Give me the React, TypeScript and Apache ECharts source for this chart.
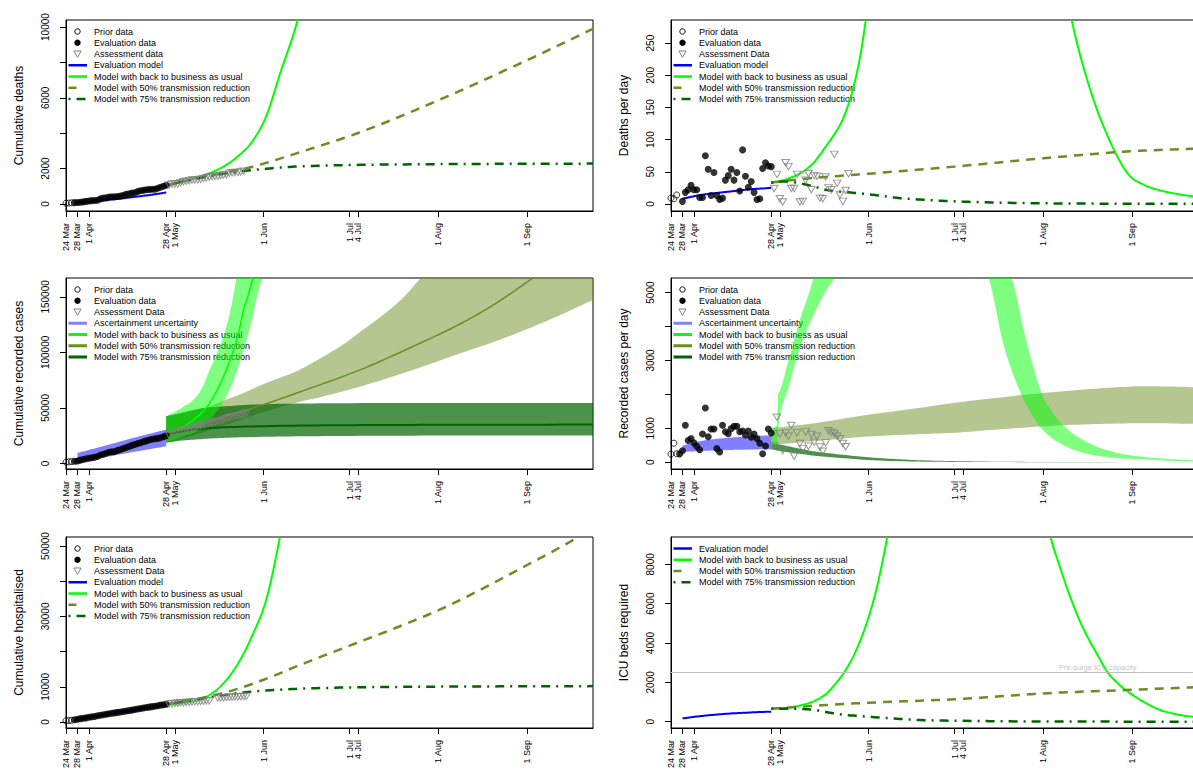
import React, { useEffect, useRef } from 'react';
import * as echarts from 'echarts';

const FONT = '"Liberation Sans", Arial, Helvetica, sans-serif';

// ---------- shared axis info ----------
const TICK_DAYS = [0, 4, 8, 35, 38, 69, 99, 102, 130, 161];
const TICK_LABELS = ['24 Mar', '28 Mar', '1 Apr', '28 Apr', '1 May', '1 Jun', '1 Jul', '4 Jul', '1 Aug', '1 Sep'];
const X_MAX = 184;

// ---------- colours ----------
const C_BLUE = '#0000FF';
const C_GREEN = '#00FF00';
const C_OLIVE = '#6B8E23';
const C_DKGREEN = '#006400';
const C_TRI = '#808080';
const B_BLUE = 'rgba(0,0,255,0.5)';
const B_GREEN = 'rgba(0,255,0,0.5)';
const B_OLIVE = 'rgba(107,142,35,0.5)';
const B_DK = 'rgba(0,100,0,0.7)';
const DASH50 = [9, 7];
const DASH75 = [2, 6, 9, 6];

// ---------- day positions ----------
const PRIOR_DAYS = [0, 1, 2];
const EVAL_DAYS_3 = [3, 4, 5, 6, 7, 8, 9, 10, 11, 12, 13, 14, 15, 16, 17, 18, 19, 20, 21, 22, 23, 24, 25, 26, 27, 28, 29, 30, 31, 32, 33, 34, 35];
const EVAL_DAYS_4 = [4, 5, 6, 7, 8, 9, 10, 11, 12, 13, 14, 15, 16, 17, 18, 19, 20, 21, 22, 23, 24, 25, 26, 27, 28, 29, 30, 31, 32, 33, 34, 35];
const ASSESS_DAYS_62 = [36, 37, 38, 39, 40, 41, 42, 43, 44, 45, 46, 47, 48, 49, 50, 51, 52, 53, 54, 55, 56, 57, 58, 59, 60, 61, 62];
const ASSESS_DAYS_61 = [36, 37, 38, 39, 40, 41, 42, 43, 44, 45, 46, 47, 48, 49, 50, 51, 52, 53, 54, 55, 56, 57, 58, 59, 60, 61];
const ASSESS_DAYS_63 = [36, 37, 38, 39, 40, 41, 42, 43, 44, 45, 46, 47, 48, 49, 50, 51, 52, 53, 54, 55, 56, 57, 58, 59, 60, 61, 62, 63];
const HOSP_ASSESS_DAYS = [36, 37, 38, 39, 40, 41, 42, 43, 44, 45, 46, 47, 48, 49, 50, 53, 54, 55, 56, 57, 58, 59, 60, 61, 62, 63];

// ---------- Panel A: cumulative deaths ----------
const DEATHS_CUM_PRIOR = [40, 49, 63];
const DEATHS_CUM_EVAL = [72, 76, 94, 116, 144, 166, 188, 198, 209, 284, 330, 343, 390, 402, 408, 418, 452, 492, 540, 572, 612, 630, 705, 745, 768, 800, 817, 825, 833, 885, 945, 1000, 1055];
const DEATHS_CUM_ASSESS = [1079, 1125, 1133, 1136, 1200, 1258, 1282, 1306, 1352, 1355, 1359, 1396, 1443, 1465, 1509, 1552, 1561, 1569, 1611, 1636, 1658, 1735, 1767, 1781, 1785, 1806, 1853];
const DEATHS_CUM_MODEL = [[4, 60], [8, 110], [12, 180], [16, 250], [20, 320], [24, 400], [28, 480], [32, 570], [35, 650]];
const DEATHS_CUM_BAU = [[35, 1055], [40, 1230], [45, 1450], [50, 1725], [55, 2110], [60, 2690], [65, 3520], [70, 5000], [75, 7500], [80, 9900], [85, 13000]];
const DEATHS_CUM_P50 = [[35, 1055], [45, 1420], [55, 1760], [62, 1980], [69, 2280], [82, 2940], [102, 4010], [130, 5860], [161, 8130], [184, 9900]];
const DEATHS_CUM_P75 = [[35, 1055], [45, 1410], [55, 1700], [62, 1860], [70, 1990], [80, 2110], [100, 2200], [130, 2250], [160, 2270], [184, 2280]];

// ---------- Panel B: deaths per day ----------
const DEATHS_DAILY_PRIOR = [9, 8, 14];
const DEATHS_DAILY_EVAL = [4, 18, 22, 29, 22, 22, 10, 10, 75, 54, 13, 49, 13, 7, 9, 37, 44, 54, 37, 49, 20, 84, 43, 26, 35, 18, 7, 8, 55, 64, 59, 58];
const DEATHS_DAILY_ASSESS = [24, 46, 8, 3, 64, 58, 24, 24, 46, 3, 4, 37, 47, 22, 44, 43, 9, 8, 42, 25, 22, 77, 32, 14, 4, 21, 47];
const DEATHS_DAILY_MODEL = [[4, 8], [8, 12], [12, 15], [16, 17], [20, 19], [24, 21], [28, 23], [32, 24], [35, 25]];
const DEATHS_DAILY_BAU = [[35, 33], [40, 38], [46, 50], [50, 65], [54, 89], [57, 108], [60, 132], [63, 170], [66, 228], [68, 285], [70, 345], [73, 460], [100, 3000], [135, 410], [139.9, 286], [146.5, 176], [153.1, 99], [159.7, 46], [165, 30], [170, 22], [176, 16], [181.8, 12], [184, 11]];
const DEATHS_DAILY_P50 = [[35, 33], [40, 36], [54, 42], [69, 47], [99, 58], [130, 71], [161, 82], [184, 86]];
const DEATHS_DAILY_P75 = [[35, 33], [40, 35], [45, 32], [50, 27], [54, 22], [62, 18], [69, 15], [80, 9], [90, 6], [99, 4], [115, 2], [130, 1], [160, 0.3], [184, 0.1]];

// ---------- Panel C: cumulative recorded cases ----------
const CASES_CUM_PRIOR = [1200, 1450, 1700];
const CASES_CUM_EVAL = [1900, 2200, 3000, 3600, 4200, 4700, 5100, 5500, 6200, 7600, 8300, 9200, 10100, 10500, 10800, 11800, 12600, 13400, 14300, 15300, 16300, 17100, 18000, 18700, 19600, 20300, 21100, 21800, 22300, 22600, 23100, 24100, 25000];
const CASES_CUM_ASSESS = [25600, 26900, 27700, 28100, 29000, 29800, 30900, 31100, 32000, 32600, 33000, 34000, 34500, 35400, 36000, 36800, 37300, 37700, 38300, 39300, 40200, 41100, 41900, 42600, 43200, 43700, 44600, 45400];
const CASES_CUM_ASC_HI = [[4, 9500], [10, 13500], [15, 17000], [20, 20500], [25, 24000], [30, 27300], [35, 30500]];
const CASES_CUM_ASC_LO = [[4, 1500], [10, 4000], [15, 6300], [20, 8700], [25, 11000], [30, 13300], [35, 15500]];
const CASES_CUM_BAU_HI = [[35, 42500], [38, 46500], [41, 51000], [44.6, 57500], [47.5, 68000], [50.2, 84500], [53, 101000], [56, 123000], [58, 145000], [59.5, 167000], [62, 200000], [66, 280000]];
const CASES_CUM_BAU_LO = [[35, 18600], [38, 21500], [41, 24500], [44.6, 27600], [47.5, 32500], [50.2, 39500], [53, 48000], [56, 60500], [59, 78000], [62, 102400], [64.5, 125000], [66.7, 150000], [68.5, 167000], [71, 200000]];
const CASES_CUM_BAU_MID = [[35, 27000], [40, 32000], [44.6, 39500], [50.2, 54500], [56, 84500], [60, 115000], [62, 138000], [64, 155000], [66, 175000], [68, 200000]];
const CASES_CUM_P50_HI = [[35, 42500], [40, 44500], [45, 47500], [50, 51500], [56, 57500], [62, 63500], [68, 70500], [74, 76500], [79.6, 82000], [86, 90500], [92, 99500], [97, 107500], [102.9, 118900], [108, 128500], [113, 138500], [118, 150000], [123.9, 167000], [130, 182000], [140, 210000], [160, 270000], [184, 350000]];
const CASES_CUM_P50_LO = [[35, 18600], [45, 26000], [56, 35000], [68, 45500], [80, 54500], [90, 60500], [102.9, 69400], [115, 79000], [127, 89500], [137.9, 99400], [150, 110000], [160, 120000], [172, 133000], [184, 147300]];
const CASES_CUM_P50_MID = [[35, 27000], [45, 33500], [56, 42500], [69, 53000], [85, 67500], [102.9, 84500], [120, 104000], [137.9, 126000], [150, 144000], [163, 167000], [175, 188000]];
const CASES_CUM_P75_HI = [[35, 42500], [40, 45500], [45, 48500], [50, 50500], [56, 51500], [65, 53000], [80, 53900], [100, 54300], [130, 54500], [184, 54500]];
const CASES_CUM_P75_LO = [[35, 18600], [40, 20500], [45, 21500], [50, 22400], [56, 23100], [65, 23800], [80, 24400], [100, 24800], [130, 25100], [184, 25200]];
const CASES_CUM_P75_MID = [[35, 26000], [40, 28500], [44.6, 30500], [55, 32500], [68, 33500], [85, 34200], [100, 34500], [130, 34800], [184, 35000]];

// ---------- Panel D: recorded cases per day ----------
const CASES_DAILY_PRIOR = [240, 560, 250];
const CASES_DAILY_EVAL = [245, 340, 1090, 640, 700, 570, 470, 370, 830, 1600, 750, 980, 980, 400, 300, 1090, 900, 840, 990, 1060, 1060, 900, 920, 800, 920, 740, 830, 700, 560, 250, 480, 980, 860];
const CASES_DAILY_ASSESS = [490, 1325, 835, 345, 865, 765, 1080, 175, 865, 550, 400, 895, 470, 815, 590, 765, 450, 325, 570, 930, 880, 845, 765, 690, 550, 455];
const CASES_DAILY_ASC_HI = [[4, 490], [10, 620], [15, 680], [20, 720], [25, 750], [30, 775], [35, 795]];
const CASES_DAILY_ASC_LO = [[4, 300], [10, 330], [15, 345], [20, 360], [25, 370], [30, 378], [35, 385]];
const CASES_DAILY_BAU_HI_RISE = [[35, 1000], [36, 1020], [37, 1100]];
const CASES_DAILY_BAU_HI = [[37.4, 2000], [38.2, 2140], [41.1, 3020], [45, 4200], [49.7, 5430], [52, 6400], [80, 40000], [112, 6500], [118.8, 5430], [124, 3600], [129.4, 2040], [133, 1500], [137.3, 1060], [146, 560], [155.7, 280], [166, 150], [175, 90], [184, 55]];
const CASES_DAILY_BAU_LO_RISE = [[35, 500], [36, 510], [37, 520]];
const CASES_DAILY_BAU_LO = [[37.4, 1000], [38.5, 1550], [41, 2200], [43.7, 3020], [46, 3600], [49, 4200], [54.3, 5080], [57, 5430], [60, 6200], [80, 30000], [105, 6500], [110.9, 5430], [116, 3500], [122.1, 2040], [128.7, 1060], [135, 600], [143.9, 280], [155, 130], [166, 80], [175, 40], [184, 25]];
const CASES_DAILY_P50_HI = [[35, 1000], [37, 1020], [50, 1150], [69, 1400], [85, 1580], [99, 1750], [115, 1910], [130, 2040], [150, 2180], [166, 2240], [184, 2210]];
const CASES_DAILY_P50_LO = [[35, 500], [37, 520], [50, 620], [69, 760], [85, 820], [99, 870], [115, 970], [130, 1060], [150, 1130], [166, 1150], [184, 1130]];
const CASES_DAILY_P75_HI = [[35, 560], [38, 520], [45, 400], [50, 320], [60, 220], [70, 140], [80, 85], [90, 50], [110, 20], [140, 5], [184, 1]];
const CASES_DAILY_P75_LO = [[35, 380], [38, 330], [45, 250], [50, 190], [60, 120], [70, 60], [80, 30], [90, 15], [110, 5], [140, 1], [184, 0]];

// ---------- Panel E: cumulative hospitalised ----------
const HOSP_PRIOR = [350, 420, 500];
const HOSP_EVAL = [650, 780, 960, 1050, 1180, 1330, 1470, 1580, 1760, 1900, 2080, 2200, 2330, 2480, 2600, 2740, 2870, 2980, 3120, 3250, 3380, 3560, 3690, 3840, 3960, 4100, 4230, 4370, 4500, 4630, 4790, 4910, 5050];
const HOSP_ASSESS = [5100, 5200, 5300, 5350, 5450, 5500, 5560, 5640, 5700, 5750, 5800, 5860, 5900, 5950, 6000, 6800, 6850, 6900, 6950, 7000, 7050, 7100, 7150, 7200, 7250, 7300];
const HOSP_MODEL = [[4, 750], [10, 1550], [15, 2250], [20, 2900], [25, 3550], [30, 4200], [35, 4850]];
const HOSP_BAU = [[35, 5050], [40, 5350], [45, 6000], [50, 7600], [55, 11000], [60, 16500], [65, 24500], [70, 35000], [74.7, 52600], [78, 68000]];
const HOSP_P50 = [[35, 5050], [45, 6400], [57, 8700], [69, 12000], [82, 16300], [97.5, 21200], [115, 26700], [130.7, 32000], [145, 37700], [161, 44600], [170, 48500], [178.4, 52300], [184, 55000]];
const HOSP_P75 = [[35, 5050], [45, 6300], [50, 7000], [60, 8200], [69, 8900], [80, 9400], [97.5, 9800], [130, 10050], [184, 10200]];

// ---------- Panel F: ICU beds ----------
const ICU_MODEL = [[4, 170], [10, 280], [15, 350], [20, 410], [25, 450], [30, 485], [35, 510]];
const ICU_BAU = [[35, 660], [40, 700], [45, 820], [50, 1050], [54, 1400], [57, 1850], [60.4, 2490], [64, 3420], [67.7, 4750], [70.5, 6050], [72.7, 7350], [75.5, 9390], [78, 11500], [105, 35000], [128, 13000], [132.6, 9370], [135.5, 8000], [139, 6500], [142.5, 5200], [146, 4150], [149.5, 3250], [152, 2600], [156.4, 1900], [158.8, 1610], [163.4, 1150], [170.4, 620], [177.4, 350], [181.9, 255], [184, 225]];
const ICU_P50 = [[35, 660], [54.3, 850], [69, 965], [99, 1140], [121.6, 1357], [130, 1440], [158.8, 1610], [184, 1760]];
const ICU_P75 = [[35, 660], [45, 650], [50, 600], [55, 470], [60, 360], [69, 255], [80, 140], [87, 85], [99, 50], [130, 10], [184, 2]];
const ICU_CAPACITY = 2500;
const ICU_CAPACITY_LABEL_DAY = 149;

// ---------- layout ----------
const GRID_LEFT = [66, 671];
const GRID_TOP = [20, 278, 537];
const GRID_W = 527;
const GRID_H = 191;

const Y_SPECS = [
  { name: 'Cumulative deaths', min: -400, max: 10400, ticks: [0, 2000, 4000, 6000, 8000, 10000], labels: [0, 2000, 6000, 10000] },
  { name: 'Deaths per day', min: -11, max: 286, ticks: [0, 50, 100, 150, 200, 250], labels: [0, 50, 100, 150, 200, 250] },
  { name: 'Cumulative recorded cases', min: -5000, max: 167000, ticks: [0, 50000, 100000, 150000], labels: [0, 50000, 100000, 150000] },
  { name: 'Recorded cases per day', min: -200, max: 5430, ticks: [0, 1000, 2000, 3000, 4000, 5000], labels: [0, 1000, 3000, 5000] },
  { name: 'Cumulative hospitalised', min: -1700, max: 52560, ticks: [0, 10000, 20000, 30000, 40000, 50000], labels: [0, 10000, 30000, 50000] },
  { name: 'ICU beds required', min: -320, max: 9390, ticks: [0, 2000, 4000, 6000, 8000], labels: [0, 2000, 4000, 6000, 8000] },
];

const zip = (xs: number[], ys: number[]) => xs.map((x, i) => [x, ys[i]]);

// Monotone cubic (Fritsch-Carlson) drawing of a curve through pixel points whose x increases.
function monotoneCurve(p: number[][], steps = 10): number[][] {
  const n = p.length;
  if (n < 3) return p.slice();
  const m: number[] = [];
  for (let i = 0; i < n - 1; i++) m.push((p[i + 1][1] - p[i][1]) / (p[i + 1][0] - p[i][0]));
  const t: number[] = new Array(n);
  t[0] = m[0];
  t[n - 1] = m[n - 2];
  for (let i = 1; i < n - 1; i++) t[i] = m[i - 1] * m[i] <= 0 ? 0 : (m[i - 1] + m[i]) / 2;
  for (let i = 0; i < n - 1; i++) {
    if (m[i] === 0) { t[i] = 0; t[i + 1] = 0; continue; }
    const a = t[i] / m[i];
    const b = t[i + 1] / m[i];
    const s = a * a + b * b;
    if (s > 9) {
      const tau = 3 / Math.sqrt(s);
      t[i] = tau * a * m[i];
      t[i + 1] = tau * b * m[i];
    }
  }
  const out: number[][] = [p[0]];
  for (let i = 0; i < n - 1; i++) {
    const h = p[i + 1][0] - p[i][0];
    for (let k = 1; k <= steps; k++) {
      const u = k / steps;
      const h00 = 2 * u * u * u - 3 * u * u + 1;
      const h10 = u * u * u - 2 * u * u + u;
      const h01 = -2 * u * u * u + 3 * u * u;
      const h11 = u * u * u - u * u;
      out.push([p[i][0] + u * h, h00 * p[i][1] + h10 * h * t[i] + h01 * p[i + 1][1] + h11 * h * t[i + 1]]);
    }
  }
  return out;
}

function scatter(gi: number, name: string, xs: number[], ys: number[], kind: string): any {
  const base: any = {
    type: 'scatter', name, xAxisIndex: gi, yAxisIndex: gi, data: zip(xs, ys), silent: true, clip: true,
  };
  if (kind === 'open') {
    return { ...base, symbol: 'circle', symbolSize: 6, itemStyle: { color: 'rgba(0,0,0,0)', borderColor: '#000', borderWidth: 1 } };
  }
  if (kind === 'dot') {
    return { ...base, symbol: 'circle', symbolSize: 7, itemStyle: { color: '#000' } };
  }
  return { ...base, symbol: 'triangle', symbolRotate: 180, symbolSize: [7.5, 6.5], itemStyle: { color: 'rgba(0,0,0,0)', borderColor: C_TRI, borderWidth: 1 } };
}

// Model line drawn through the read points with a monotone cubic, using the axes' own scale (api.coord).
function line(gi: number, name: string, pts: number[][], color: string, width: number, dash?: number[]): any {
  return {
    type: 'custom', name, xAxisIndex: gi, yAxisIndex: gi, clip: true, silent: true,
    data: [pts[0]],
    renderItem: (_params: any, api: any) => {
      const px = monotoneCurve(pts.map((p) => api.coord(p)));
      return {
        type: 'polyline',
        shape: { points: px },
        style: { stroke: color, lineWidth: width, fill: 'none', lineDash: dash || null, lineCap: 'butt', lineJoin: 'round' },
      };
    },
  };
}

function band(gi: number, name: string, hiParts: number[][][], loParts: number[][][], color: string): any {
  return {
    type: 'custom', name, xAxisIndex: gi, yAxisIndex: gi, clip: true, silent: true,
    data: [hiParts[0][0]],
    renderItem: (_params: any, api: any) => {
      const hi: number[][] = [];
      hiParts.forEach((part) => hi.push(...monotoneCurve(part.map((p) => api.coord(p)))));
      const lo: number[][] = [];
      loParts.forEach((part) => lo.push(...monotoneCurve(part.map((p) => api.coord(p)))));
      return { type: 'polygon', shape: { points: hi.concat(lo.reverse()) }, style: { fill: color, stroke: 'none' } };
    },
  };
}

type LegendEntry = { kind: string; label: string; color?: string; width?: number; dash?: number[] };

function legend(panel: number, entries: LegendEntry[]): any[] {
  const L = GRID_LEFT[panel % 2];
  const T = GRID_TOP[Math.floor(panel / 2)];
  const out: any[] = [];
  entries.forEach((e, i) => {
    const y = T + 11.5 + i * 11.25;
    const mx = L + 11.5;
    if (e.kind === 'open') {
      out.push({ type: 'circle', shape: { cx: mx, cy: y, r: 2.7 }, style: { fill: 'none', stroke: '#000', lineWidth: 1 } });
    } else if (e.kind === 'dot') {
      out.push({ type: 'circle', shape: { cx: mx, cy: y, r: 3.2 }, style: { fill: '#000' } });
    } else if (e.kind === 'tri') {
      out.push({ type: 'polygon', shape: { points: [[mx - 3.6, y - 3], [mx + 3.6, y - 3], [mx, y + 3.3]] }, style: { fill: 'none', stroke: C_TRI, lineWidth: 1 } });
    } else {
      out.push({ type: 'line', shape: { x1: L + 2.5, y1: y, x2: L + 21, y2: y }, style: { stroke: e.color, lineWidth: e.width || 2.5, lineDash: e.dash || null, lineCap: 'butt' } });
    }
    out.push({ type: 'text', x: L + 28, y, style: { text: e.label, fontSize: 9, fontFamily: FONT, fill: '#000', verticalAlign: 'middle', align: 'left' } });
  });
  return out;
}

const LBL_BAU = 'Model with back to business as usual';
const LBL_50 = 'Model with 50% transmission reduction';
const LBL_75 = 'Model with 75% transmission reduction';

function buildOption(): any {
  const grids: any[] = [];
  const xAxes: any[] = [];
  const yAxes: any[] = [];
  for (let i = 0; i < 6; i++) {
    grids.push({
      left: GRID_LEFT[i % 2], top: GRID_TOP[Math.floor(i / 2)], width: GRID_W, height: GRID_H,
      show: true, borderColor: '#000', borderWidth: 1, backgroundColor: 'transparent',
      containLabel: false, outerBoundsMode: 'none',
    });
    xAxes.push({
      type: 'value', gridIndex: i, min: 0, max: X_MAX,
      axisLine: { show: true, onZero: false, lineStyle: { color: '#000', width: 1 } },
      axisTick: { show: true, customValues: TICK_DAYS, length: 6, lineStyle: { color: '#000', width: 1 } },
      axisLabel: {
        show: true, customValues: TICK_DAYS, rotate: 90, fontSize: 9, fontFamily: FONT, color: '#000', margin: 12,
        hideOverlap: false, formatter: (v: number) => TICK_LABELS[TICK_DAYS.indexOf(v)] ?? '',
      },
      splitLine: { show: false },
    });
    const s = Y_SPECS[i];
    yAxes.push({
      type: 'value', gridIndex: i, min: s.min, max: s.max,
      axisLine: { show: true, onZero: false, lineStyle: { color: '#000', width: 1 } },
      axisTick: { show: true, customValues: s.ticks, length: 6, lineStyle: { color: '#000', width: 1 } },
      axisLabel: {
        show: true, customValues: s.labels, rotate: 90, fontSize: 10, fontFamily: FONT, color: '#000', margin: 16,
        hideOverlap: false, formatter: (v: number) => String(v),
      },
      splitLine: { show: false },
      name: s.name, nameLocation: 'middle', nameGap: 41,
      nameTextStyle: { fontSize: 12, fontFamily: FONT, color: '#000' },
    });
  }

  const series: any[] = [
    // A: cumulative deaths
    line(0, 'BAU', DEATHS_CUM_BAU, C_GREEN, 2),
    line(0, '50%', DEATHS_CUM_P50, C_OLIVE, 2.5, DASH50),
    line(0, '75%', DEATHS_CUM_P75, C_DKGREEN, 2.5, DASH75),
    scatter(0, 'Prior data', PRIOR_DAYS, DEATHS_CUM_PRIOR, 'open'),
    scatter(0, 'Evaluation data', EVAL_DAYS_3, DEATHS_CUM_EVAL, 'dot'),
    scatter(0, 'Assessment data', ASSESS_DAYS_62, DEATHS_CUM_ASSESS, 'tri'),
    line(0, 'Evaluation model', DEATHS_CUM_MODEL, C_BLUE, 2),

    // B: deaths per day
    line(1, 'BAU', DEATHS_DAILY_BAU, C_GREEN, 2),
    line(1, '50%', DEATHS_DAILY_P50, C_OLIVE, 2.5, DASH50),
    line(1, '75%', DEATHS_DAILY_P75, C_DKGREEN, 2.5, DASH75),
    scatter(1, 'Prior data', PRIOR_DAYS, DEATHS_DAILY_PRIOR, 'open'),
    scatter(1, 'Evaluation data', EVAL_DAYS_4, DEATHS_DAILY_EVAL, 'dot'),
    scatter(1, 'Assessment Data', ASSESS_DAYS_62, DEATHS_DAILY_ASSESS, 'tri'),
    line(1, 'Evaluation model', DEATHS_DAILY_MODEL, C_BLUE, 2),

    // C: cumulative recorded cases
    band(2, 'Ascertainment uncertainty', [CASES_CUM_ASC_HI], [CASES_CUM_ASC_LO], B_BLUE),
    band(2, '50% band', [CASES_CUM_P50_HI], [CASES_CUM_P50_LO], B_OLIVE),
    band(2, '75% band', [CASES_CUM_P75_HI], [CASES_CUM_P75_LO], B_DK),
    band(2, 'BAU band', [CASES_CUM_BAU_HI], [CASES_CUM_BAU_LO], B_GREEN),
    line(2, 'BAU', CASES_CUM_BAU_MID, C_GREEN, 1.5),
    line(2, '50%', CASES_CUM_P50_MID, C_OLIVE, 1.5),
    line(2, '75%', CASES_CUM_P75_MID, C_DKGREEN, 2),
    scatter(2, 'Prior data', PRIOR_DAYS, CASES_CUM_PRIOR, 'open'),
    scatter(2, 'Evaluation data', EVAL_DAYS_3, CASES_CUM_EVAL, 'dot'),
    scatter(2, 'Assessment Data', ASSESS_DAYS_63, CASES_CUM_ASSESS, 'tri'),

    // D: recorded cases per day
    band(3, 'Ascertainment uncertainty', [CASES_DAILY_ASC_HI], [CASES_DAILY_ASC_LO], B_BLUE),
    band(3, '50% band', [CASES_DAILY_P50_HI], [CASES_DAILY_P50_LO], B_OLIVE),
    band(3, '75% band', [CASES_DAILY_P75_HI], [CASES_DAILY_P75_LO], B_DK),
    band(3, 'BAU band', [CASES_DAILY_BAU_HI_RISE, CASES_DAILY_BAU_HI], [CASES_DAILY_BAU_LO_RISE, CASES_DAILY_BAU_LO], B_GREEN),
    scatter(3, 'Prior data', PRIOR_DAYS, CASES_DAILY_PRIOR, 'open'),
    scatter(3, 'Evaluation data', EVAL_DAYS_3, CASES_DAILY_EVAL, 'dot'),
    scatter(3, 'Assessment Data', ASSESS_DAYS_61, CASES_DAILY_ASSESS, 'tri'),

    // E: cumulative hospitalised
    line(4, 'BAU', HOSP_BAU, C_GREEN, 2),
    line(4, '50%', HOSP_P50, C_OLIVE, 2.5, DASH50),
    line(4, '75%', HOSP_P75, C_DKGREEN, 2.5, DASH75),
    scatter(4, 'Prior data', PRIOR_DAYS, HOSP_PRIOR, 'open'),
    scatter(4, 'Evaluation data', EVAL_DAYS_3, HOSP_EVAL, 'dot'),
    scatter(4, 'Assessment Data', HOSP_ASSESS_DAYS, HOSP_ASSESS, 'tri'),
    line(4, 'Evaluation model', HOSP_MODEL, C_BLUE, 2.5),

    // F: ICU beds
    {
      type: 'line', name: 'Pre-surge ICU capacity', xAxisIndex: 5, yAxisIndex: 5, silent: true,
      data: [[0, ICU_CAPACITY], [X_MAX, ICU_CAPACITY]], symbol: 'none', lineStyle: { color: '#bebebe', width: 1 },
    },
    {
      type: 'scatter', xAxisIndex: 5, yAxisIndex: 5, silent: true, symbolSize: 1,
      itemStyle: { color: 'rgba(0,0,0,0)' },
      data: [[ICU_CAPACITY_LABEL_DAY, ICU_CAPACITY]],
      label: { show: true, position: 'top', distance: 1, formatter: 'Pre-surge ICU capacity', fontSize: 7.5, fontFamily: FONT, color: '#b4b4b4' },
    },
    line(5, 'BAU', ICU_BAU, C_GREEN, 2),
    line(5, '50%', ICU_P50, C_OLIVE, 2.5, DASH50),
    line(5, '75%', ICU_P75, C_DKGREEN, 2.5, DASH75),
    line(5, 'Evaluation model', ICU_MODEL, C_BLUE, 2),
  ];

  const dataEntries = (assess: string): LegendEntry[] => [
    { kind: 'open', label: 'Prior data' },
    { kind: 'dot', label: 'Evaluation data' },
    { kind: 'tri', label: assess },
  ];
  const modelEntries: LegendEntry[] = [
    { kind: 'line', label: 'Evaluation model', color: C_BLUE },
    { kind: 'line', label: LBL_BAU, color: C_GREEN },
    { kind: 'line', label: LBL_50, color: C_OLIVE, dash: [8, 11] },
    { kind: 'line', label: LBL_75, color: C_DKGREEN, dash: DASH75 },
  ];
  const bandEntries: LegendEntry[] = [
    { kind: 'line', label: 'Ascertainment uncertainty', color: '#8080FF', width: 3 },
    { kind: 'line', label: LBL_BAU, color: C_GREEN, width: 3 },
    { kind: 'line', label: LBL_50, color: C_OLIVE, width: 3 },
    { kind: 'line', label: LBL_75, color: C_DKGREEN, width: 3 },
  ];

  const graphics = [
    ...legend(0, [...dataEntries('Assessment data'), ...modelEntries]),
    ...legend(1, [...dataEntries('Assessment Data'), ...modelEntries]),
    ...legend(2, [...dataEntries('Assessment Data'), ...bandEntries]),
    ...legend(3, [...dataEntries('Assessment Data'), ...bandEntries]),
    ...legend(4, [...dataEntries('Assessment Data'), ...modelEntries]),
    ...legend(5, modelEntries),
  ];

  return {
    animation: false,
    backgroundColor: '#ffffff',
    textStyle: { fontFamily: FONT },
    grid: grids,
    xAxis: xAxes,
    yAxis: yAxes,
    series,
    graphic: { elements: graphics },
  };
}

export default function App() {
  const ref = useRef<HTMLDivElement>(null);
  useEffect(() => {
    if (!ref.current) return;
    const chart = echarts.init(ref.current, undefined, { renderer: 'svg' });
    chart.setOption(buildOption());
    return () => chart.dispose();
  }, []);
  return (
    <div
      ref={ref}
      style={{ position: 'absolute', left: 0, top: 0, width: 1193, height: 771, background: '#fff', overflow: 'hidden' }}
    />
  );
}
